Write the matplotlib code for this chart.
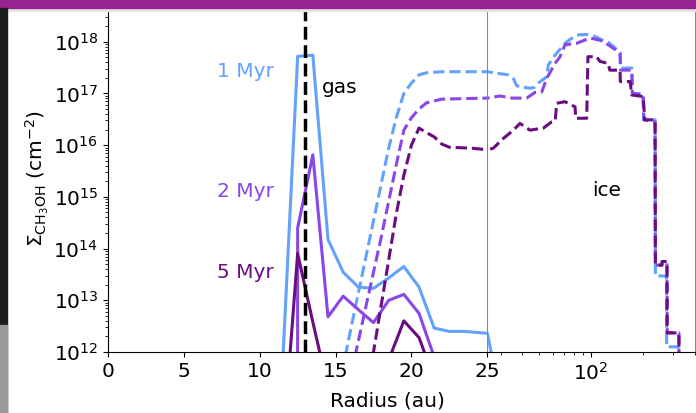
import matplotlib
matplotlib.use("Agg")
import matplotlib.pyplot as plt
from matplotlib.patches import Rectangle
import numpy as np

# gas-phase CH3OH (solid lines), radius in au, column density in cm^-2
r_gas = [11.5, 12.5, 13.5, 14.5, 15.5, 16.5, 17.5, 18.5, 19.5, 20.5, 21.5,
         22.5, 23.5, 25.0, 26.5, 27.5]
gas_1myr = [5e11, 5.2e17, 5.5e17, 1.5e14, 3.5e13, 1.8e13, 1.7e13, 2.7e13,
            4.5e13, 1.8e13, 2.9e12, 2.5e12, 2.5e12, 2.3e12, 9e11, 1e5]
gas_2myr = [0, 2.5e14, 6.5e15, 4.8e12, 1.2e13, 6.6e12, 3.7e12, 1.0e13,
            1.3e13, 5.6e12, 8e11, 0, 0, 0, 0, 0]
gas_5myr = [1.1e10, 8e13, 3.8e12, 2e11, 1e11, 1e11, 1e11, 7e11,
            4e12, 1.9e12, 3e11, 0, 0, 0, 0, 0]

# ice-phase CH3OH (dashed lines), log10 of column density
r_ice_1myr = [15.0, 16.0, 17.0, 18.0, 18.5, 19.0, 19.5, 20.0, 20.5, 21.0,
              22.0, 25.0, 28.4, 33.0, 35.4, 37.0, 38.7, 44.2, 47.0, 49.4,
              55.3, 56.5, 59.1, 63.2, 66.0, 70.6, 76.0, 82.6, 94.4, 105.5,
              115.0, 126.0, 136.0, 147.5, 148.5, 172.5, 174.0, 200.0, 202.0,
              235.5, 236.5, 274.0, 275.0, 321.0, 322.0]
ice_1myr = [11.0, 12.44, 13.84, 15.24, 15.94, 16.53, 17.0, 17.2, 17.36,
            17.40, 17.42, 17.42, 17.39, 17.36, 17.29, 17.15, 17.13, 17.10,
            17.12, 17.20, 17.32, 17.55, 17.65, 17.78, 17.85, 17.97, 18.05,
            18.13, 18.14, 18.10, 18.04, 17.99, 17.90, 17.78, 17.49, 17.49,
            17.0, 17.0, 16.49, 16.49, 13.47, 13.47, 12.1, 12.1, 10.0]

r_ice_2myr = [15.5, 16.0, 16.5, 17.0, 18.0, 19.0, 19.5, 20.0, 20.5, 21.0,
              22.0, 25.0, 29.6, 34.7, 42.3, 47.3, 51.8, 55.3, 61.8, 66.1,
              70.6, 82.6, 98.5, 112.5, 126.0, 147.5, 148.5, 172.5, 174.0,
              201.0, 203.0, 235.5, 236.5, 258.0, 259.0, 276.0, 277.0, 324.0,
              325.0]
ice_2myr = [11.0, 11.55, 12.21, 12.88, 14.21, 15.62, 16.29, 16.53, 16.70,
            16.82, 16.89, 16.91, 16.95, 16.91, 16.91, 17.02, 17.03, 17.29,
            17.58, 17.71, 17.94, 17.97, 18.07, 18.03, 17.94, 17.78, 17.45,
            17.45, 17.0, 16.97, 16.49, 16.45, 13.68, 13.68, 13.75, 13.75,
            12.37, 12.37, 10.0]

r_ice_5myr = [17.0, 17.5, 18.0, 19.0, 19.5, 20.0, 20.5, 21.0, 21.5, 22.0,
              22.5, 24.0, 25.0, 27.05, 31.0, 35.4, 38.7, 44.2, 52.9, 59.1,
              62.0, 63.2, 70.6, 80.8, 81.5, 94.4, 96.0, 108.0, 112.5, 126.0,
              128.5, 147.5, 148.0, 168.7, 172.5, 201.0, 205.0, 235.5, 236.5,
              258.0, 259.0, 276.0, 277.0, 324.0, 325.0]
ice_5myr = [11.0, 12.0, 12.89, 14.67, 15.42, 16.0, 16.33, 16.24, 16.16,
            16.02, 15.96, 15.94, 15.91, 15.94, 16.13, 16.29, 16.42, 16.29,
            16.33, 16.45, 16.47, 16.81, 16.84, 16.74, 16.52, 16.52, 17.71,
            17.71, 17.62, 17.58, 17.45, 17.45, 17.23, 17.23, 16.97, 16.94,
            16.49, 16.49, 13.68, 13.68, 13.75, 13.75, 12.37, 12.37, 10.0]

labels = ["1 Myr", "2 Myr", "5 Myr"]
colors = ["#62a2fb", "#8847e6", "#6a0d80"]
label_y = [2.7e17, 1.26e15, 3.4e13]
snowline = 13.0

gas = [gas_1myr, gas_2myr, gas_5myr]
ice_r = [r_ice_1myr, r_ice_2myr, r_ice_5myr]
ice = [ice_1myr, ice_2myr, ice_5myr]

W, H = 696, 413
fig = plt.figure(figsize=(W / 100, H / 100), dpi=100)
fs = 14.5

x0, x1, x2 = 108, 487.3, 694.7
ybot, ytop = 352, 5
axl = fig.add_axes([x0 / W, 1 - ybot / H, (x1 - x0) / W, (ybot - ytop) / H])
axr = fig.add_axes([x1 / W, 1 - ybot / H, (x2 - x1) / W, (ybot - ytop) / H])

ylim = (1e12, 10 ** 18.71)
for ax in (axl, axr):
    ax.set_yscale("log")
    for i in range(3):
        ax.plot(r_gas, gas[i], color=colors[i], lw=2.2)
        ax.plot(ice_r[i], 10.0 ** np.array(ice[i]), color=colors[i],
                lw=2.2, ls="--")
    ax.set_ylim(ylim)
    ax.tick_params(labelsize=fs)

axl.set_xlim(0, 25)
axl.set_xticks([0, 5, 10, 15, 20, 25])
axl.axvline(snowline, color="k", ls="--", lw=2.5)
axl.spines["right"].set_visible(False)
axl.spines["top"].set_visible(False)

axr.set_xscale("log")
axr.set_xlim(25, 400)
axr.xaxis.set_minor_formatter(matplotlib.ticker.NullFormatter())
axr.tick_params(axis="y", which="both", left=False, labelleft=False)
axr.spines["left"].set_color("#888888")
axr.spines["right"].set_color("#888888")
axr.spines["top"].set_visible(False)

for i in range(3):
    axl.text(7.2, label_y[i], labels[i], color=colors[i], fontsize=fs,
             va="center")
axl.text(14.1, 1.3e17, "gas", fontsize=fs, va="center")
axr.text(101, 1.35e15, "ice", fontsize=fs, va="center")

axl.set_ylabel(r"$\Sigma_{\mathrm{CH_3OH}}$ (cm$^{-2}$)", fontsize=fs)
axl.yaxis.set_label_coords(-0.15, 0.5)
fig.text(387.5 / W, 1 - 401 / H, "Radius (au)", fontsize=fs,
         ha="center", va="center")

# slide frame around the screenshot
fig.add_artist(Rectangle((0, 1 - 8 / H), 1, 8 / H, transform=fig.transFigure,
                         color="#94248f", zorder=10))
fig.add_artist(Rectangle((0, 1 - 11 / H), 1, 3 / H, transform=fig.transFigure,
                         color="#e6e6e6", zorder=9))
fig.add_artist(Rectangle((0, 0), 7 / W, 1 - 8 / H, transform=fig.transFigure,
                         color="#1d1d20", zorder=10))
fig.add_artist(Rectangle((0, 0), 7 / W, 88 / H, transform=fig.transFigure,
                         color="#9a9a9a", zorder=10))

fig.savefig("out.png", dpi=100)
